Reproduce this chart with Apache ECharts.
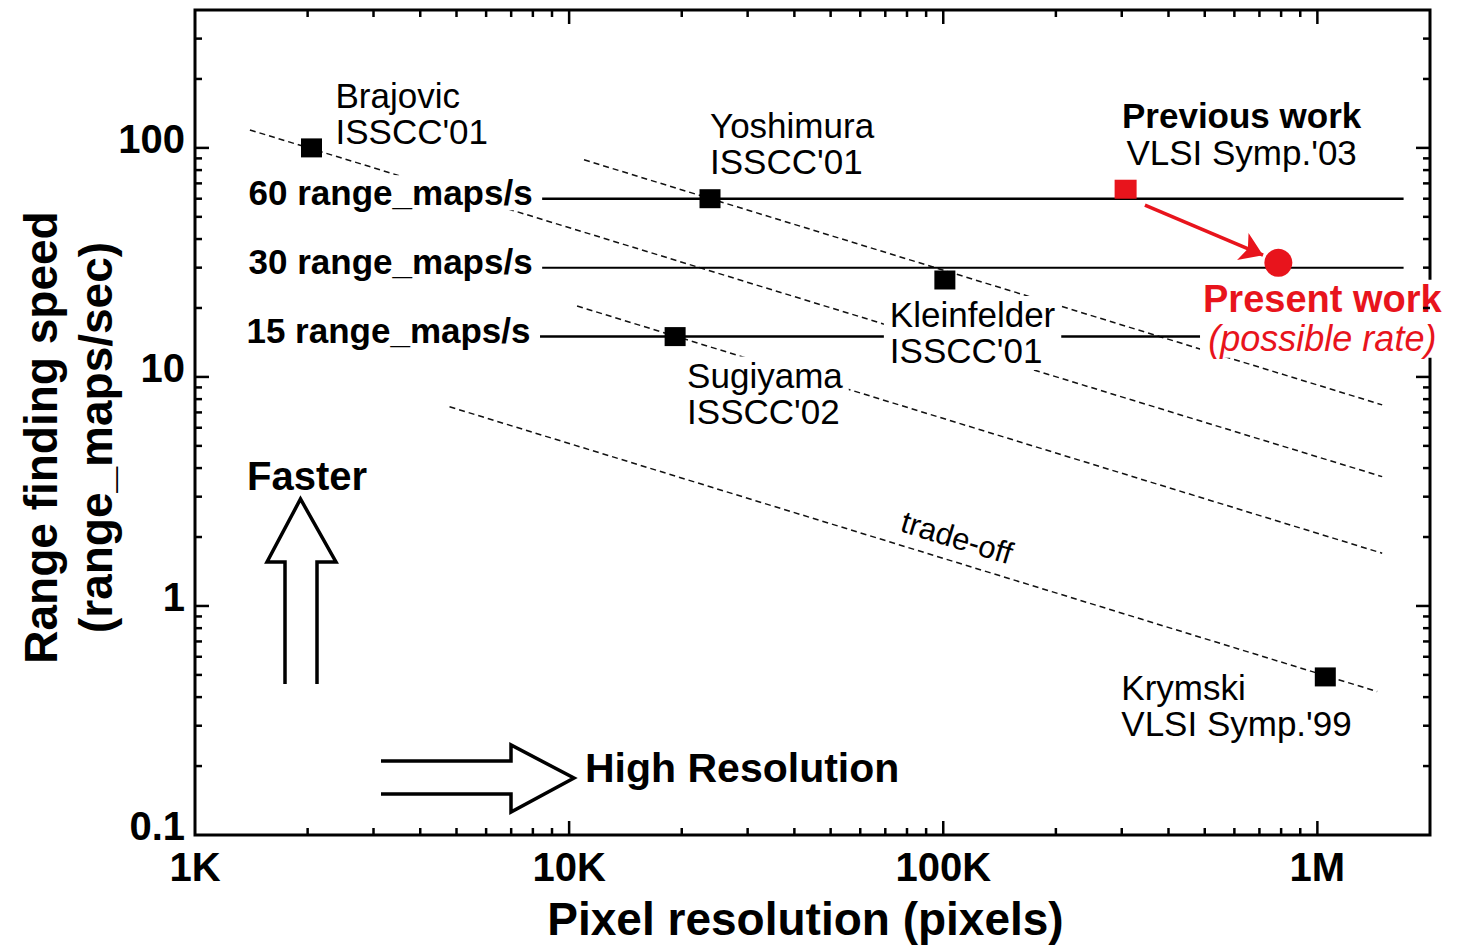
<!DOCTYPE html>
<html><head><meta charset="utf-8">
<script src="https://cdn.jsdelivr.net/npm/echarts@6/dist/echarts.min.js"></script>
<style>html,body{margin:0;padding:0;background:#fff}#c{width:1468px;height:945px}</style>
</head><body><div id="c"></div>
<script>
// ---------------- data ----------------
const xRange = [1000, 2000000];
const yRange = [0.1, 400];
const xLabelValues = [1000, 10000, 100000, 1000000];
const xLabelTexts = ['1K', '10K', '100K', '1M'];
const yLabelValues = [0.1, 1, 10, 100];
const yLabelTexts = ['0.1', '1', '10', '100'];
const xTickValues = [2000,3000,4000,5000,6000,7000,8000,9000,10000,20000,30000,40000,50000,60000,70000,80000,90000,100000,200000,300000,400000,500000,600000,700000,800000,900000,1000000];
const yTickValues = [0.2,0.3,0.4,0.5,0.6,0.7,0.8,0.9,1,2,3,4,5,6,7,8,9,10,20,30,40,50,60,70,80,90,100,200,300];

const workNames = ['Brajovic', 'Yoshimura', 'Kleinfelder', 'Sugiyama', 'Krymski'];
const workVenues = ["ISSCC'01", "ISSCC'01", "ISSCC'01", "ISSCC'02", "VLSI Symp.'99"];
const workPixels = [2048, 23800, 101000, 19200, 1050000];
const workSpeed = [100, 60, 26.5, 15, 0.49];

const previousWork = [307200, 66];
const presentWork = [786432, 31.5];
const improveArrowFrom = [346000, 56.3];
const improveArrowTo = [715800, 34.0];

const rateLevels = [60, 30, 15];
const rateLabels = ['60 range_maps/s', '30 range_maps/s', '15 range_maps/s'];
const rateLineStart = [8470, 8470, 8360];
const rateLineEnd = [1700000, 1700000, 1700000];

const tradeoffStartX = [1402, 10960, 10500, 4790];
const tradeoffStartY = [119.8, 88.7, 20.4, 7.41];
const tradeoffEndX = [1490000, 1490000, 1490000, 1445000];
const tradeoffEndY = [3.67, 7.55, 1.70, 0.423];
const tradeoffLabelAt = [104000, 1.56];

// ---------------- style ----------------
const FONT = '"Liberation Sans", Arial, Helvetica, sans-serif';
const RED = '#e8141c';
const workLabelOffsets = [[24, -34], [0, -55], [-61, 53], [6, 57], [-204, 29]];

function isPow10(v) {
  const l = Math.log10(v);
  return Math.abs(l - Math.round(l)) < 1e-6;
}
function fmt(values, texts) {
  return function (v) {
    for (let i = 0; i < values.length; i++) {
      if (Math.abs(Math.log10(v) - Math.log10(values[i])) < 1e-6) return '{t|' + texts[i] + '}';
    }
    return '';
  };
}
function tickRender(dir) {
  return function (params, api) {
    const cs = params.coordSys;
    const v = api.value(dir === 'x' ? 0 : 1);
    const p = api.coord([api.value(0), api.value(1)]);
    const len = isPow10(v) ? 14 : 7;
    const st = { stroke: '#000', lineWidth: 2.5 };
    if (dir === 'x') {
      const b = cs.y + cs.height;
      return { type: 'group', children: [
        { type: 'line', shape: { x1: p[0], y1: b, x2: p[0], y2: b - len }, style: st },
        { type: 'line', shape: { x1: p[0], y1: cs.y, x2: p[0], y2: cs.y + len }, style: st }
      ]};
    }
    const r = cs.x + cs.width;
    return { type: 'group', children: [
      { type: 'line', shape: { x1: cs.x, y1: p[1], x2: cs.x + len, y2: p[1] }, style: st },
      { type: 'line', shape: { x1: r, y1: p[1], x2: r - len, y2: p[1] }, style: st }
    ]};
  };
}

const series = [];
series.push({ type: 'custom', renderItem: tickRender('x'), data: xTickValues.map(v => [v, 1]), silent: true, z: 6, clip: false });
series.push({ type: 'custom', renderItem: tickRender('y'), data: yTickValues.map(v => [10000, v]), silent: true, z: 6, clip: false });

for (let i = 0; i < tradeoffStartX.length; i++) {
  series.push({
    type: 'line', data: [[tradeoffStartX[i], tradeoffStartY[i]], [tradeoffEndX[i], tradeoffEndY[i]]],
    symbol: 'none', silent: true, z: 1,
    lineStyle: { color: '#111', width: 1.5, type: [6, 4] }
  });
}
for (let i = 0; i < rateLevels.length; i++) {
  series.push({
    type: 'line', data: [[rateLineStart[i], rateLevels[i]], [rateLineEnd[i], rateLevels[i]]],
    symbol: 'none', silent: true, z: 2,
    lineStyle: { color: '#000', width: i === 1 ? 2 : 2.5 }
  });
}
// rate labels
series.push({
  type: 'scatter', z: 3, silent: true, symbolSize: 1, itemStyle: { color: 'transparent', opacity: 1 },
  data: rateLevels.map((r, i) => ({ value: [rateLineStart[i], r] })),
  label: {
    show: true, position: 'left', distance: 7, offset: [0, -6],
    formatter: p => rateLabels[p.dataIndex],
    fontFamily: FONT, fontSize: 35, fontWeight: 'bold', color: '#000',
    backgroundColor: '#fff', padding: [0, 2]
  }
});
// trade-off text
series.push({
  type: 'scatter', z: 3, silent: true, symbolSize: 1, itemStyle: { color: 'transparent', opacity: 1 },
  data: [tradeoffLabelAt],
  label: {
    show: true, position: 'inside', offset: [0, -25], rotate: -17,
    formatter: 'trade-off', fontFamily: FONT, fontSize: 31, color: '#000'
  }
});
// red improvement arrow
series.push({
  type: 'lines', coordinateSystem: 'cartesian2d', z: 4, silent: true,
  symbol: ['none', 'arrow'], symbolSize: 22,
  lineStyle: { color: RED, width: 3.5, opacity: 1, curveness: 0 },
  data: [{ coords: [improveArrowFrom, improveArrowTo] }]
});
// prior works
series.push({
  type: 'scatter', z: 5, symbol: 'rect', symbolSize: [21, 19],
  itemStyle: { color: '#000', opacity: 1 },
  data: workPixels.map((x, i) => ({
    value: [x, workSpeed[i]],
    label: Object.assign({ offset: workLabelOffsets[i] },
      i === 2 || i === 3 ? { backgroundColor: '#fff', padding: [1, 6] } : {})
  })),
  label: {
    show: true, position: 'inside', align: 'left', verticalAlign: 'middle',
    formatter: p => workNames[p.dataIndex] + '\n' + workVenues[p.dataIndex],
    fontFamily: FONT, fontSize: 35, lineHeight: 36, color: '#000'
  }
});
// previous work
series.push({
  type: 'scatter', z: 5, symbol: 'rect', symbolSize: [22, 19],
  itemStyle: { color: RED, opacity: 1 },
  data: [previousWork],
  label: {
    show: true, position: 'inside', align: 'center', verticalAlign: 'middle', offset: [116, -55],
    formatter: '{b|Previous work}\n{n|VLSI Symp.\'03}',
    rich: {
      b: { fontFamily: FONT, fontSize: 35, fontWeight: 'bold', color: '#000', lineHeight: 37 },
      n: { fontFamily: FONT, fontSize: 35, color: '#000', lineHeight: 37 }
    }
  }
});
// present work
series.push({
  type: 'scatter', z: 5, symbol: 'circle', symbolSize: 28,
  itemStyle: { color: RED, opacity: 1 },
  data: [presentWork],
  label: {
    show: true, position: 'inside', align: 'center', verticalAlign: 'middle', offset: [44, 56],
    backgroundColor: '#fff', padding: [0, 3],
    formatter: '{b|Present work}\n{i|(possible rate)}',
    rich: {
      b: { fontFamily: FONT, fontSize: 38, fontWeight: 'bold', color: RED, lineHeight: 39 },
      i: { fontFamily: FONT, fontSize: 36, fontStyle: 'italic', color: RED, lineHeight: 39 }
    }
  }
});

const tickLabelRich = { t: { fontFamily: FONT, fontSize: 40, fontWeight: 'bold', color: '#000' } };
const option = {
  animation: false,
  backgroundColor: '#fff',
  grid: { left: 195, right: 38, top: 10, bottom: 110, show: true, borderColor: '#000', borderWidth: 3,
    backgroundColor: 'transparent', containLabel: false, outerBoundsMode: 'none' },
  xAxis: {
    type: 'log', logBase: 10, min: xRange[0], max: xRange[1],
    axisLine: { show: false }, axisTick: { show: false }, splitLine: { show: false }, minorTick: { show: false },
    axisLabel: { formatter: fmt(xLabelValues, xLabelTexts), rich: tickLabelRich, margin: 12, showMinLabel: true, showMaxLabel: true },
    name: 'Pixel resolution (pixels)', nameLocation: 'middle', nameGap: 61, nameMoveOverlap: false,
    nameTextStyle: { fontFamily: FONT, fontSize: 46, fontWeight: 'bold', color: '#000', verticalAlign: 'top', padding: [0, 14, 0, 0] }
  },
  yAxis: {
    type: 'log', logBase: 10, min: yRange[0], max: yRange[1],
    axisLine: { show: false }, axisTick: { show: false }, splitLine: { show: false }, minorTick: { show: false },
    axisLabel: { formatter: fmt(yLabelValues, yLabelTexts), margin: 10, showMinLabel: true, showMaxLabel: true,
      rich: { t: { fontFamily: FONT, fontSize: 40, fontWeight: 'bold', color: '#000', padding: [0, 0, 18, 0] } } },
    name: 'Range finding speed\n(range_maps/sec)', nameLocation: 'middle', nameGap: 72, nameRotate: 90, nameMoveOverlap: false,
    nameTextStyle: { fontFamily: FONT, fontSize: 46, fontWeight: 'bold', color: '#000', lineHeight: 55, padding: [0, 30, 0, 0] }
  },
  graphic: [
    { type: 'polyline', z: 10, shape: { points: [[285, 684], [285, 562], [267, 562], [300.5, 499], [336, 562], [317, 562], [317, 684]] },
      style: { stroke: '#000', fill: 'none', lineWidth: 3.5 } },
    { type: 'polyline', z: 10, shape: { points: [[381, 761], [511, 761], [511, 745], [574, 778], [511, 812], [511, 794], [381, 794]] },
      style: { stroke: '#000', fill: 'none', lineWidth: 3.5 } },
    { type: 'text', z: 10, x: 307, y: 476, style: { text: 'Faster', fontFamily: FONT, fontSize: 40, fontWeight: 'bold', fill: '#000', align: 'center', verticalAlign: 'middle' } },
    { type: 'text', z: 10, x: 585, y: 768, style: { text: 'High Resolution', fontFamily: FONT, fontSize: 41, fontWeight: 'bold', fill: '#000', align: 'left', verticalAlign: 'middle' } }
  ],
  series: series
};
const chart = echarts.init(document.getElementById('c'), null, { renderer: 'svg' });
chart.setOption(option);
</script>
</body></html>
